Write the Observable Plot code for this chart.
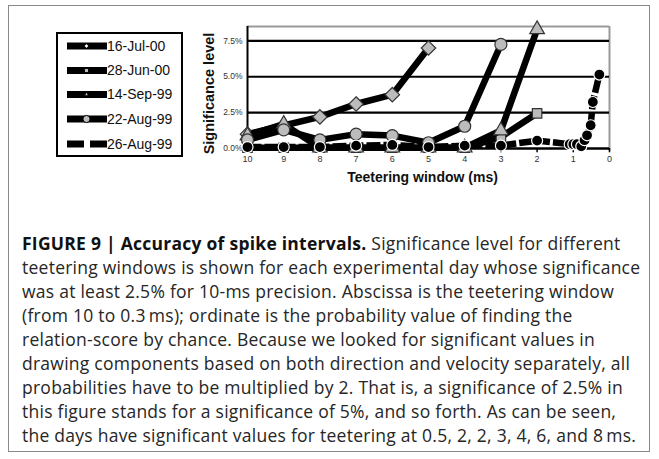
<!DOCTYPE html>
<html>
<head>
<meta charset="utf-8">
<script src="https://cdn.jsdelivr.net/npm/d3@7"></script>
<script src="https://cdn.jsdelivr.net/npm/@observablehq/plot@0.6"></script>
<style>
  html, body { margin: 0; padding: 0; background: #fff; }
  #page { position: relative; width: 659px; height: 459px; overflow: hidden; }
  #frame { position: absolute; left: 8px; top: 5px; width: 642px; height: 447px; border: 1.5px solid #8a8a8a; box-sizing: border-box; }
  #chart { position: absolute; left: 0; top: 0; }
  #legend { position: absolute; left: 0; top: 0; }
  #caption { position: absolute; left: 22px; top: 231px; font-family: "Open Sans", Roboto, "Liberation Sans", Arial, sans-serif; font-size: 17.5px; letter-spacing: 0.25px; color: #262626; line-height: 24px; }
  #caption div { white-space: nowrap; }
  #caption b { font-weight: 700; color: #111; }
</style>
</head>
<body>
<div id="page">
  <div id="frame"></div>
  <div id="chart"></div>
  <svg id="legend" width="659" height="200"></svg>
  <div id="caption">
    <div><b>FIGURE 9 | Accuracy of spike intervals.</b> Significance level for different</div>
    <div>teetering windows is shown for each experimental day whose significance</div>
    <div>was at least 2.5% for 10-ms precision. Abscissa is the teetering window</div>
    <div>(from 10 to 0.3&#8201;ms); ordinate is the probability value of finding the</div>
    <div>relation-score by chance. Because we looked for significant values in</div>
    <div>drawing components based on both direction and velocity separately, all</div>
    <div>probabilities have to be multiplied by 2. That is, a significance of 2.5% in</div>
    <div>this figure stands for a significance of 5%, and so forth. As can be seen,</div>
    <div>the days have significant values for teetering at 0.5, 2, 2, 3, 4, 6, and 8&#8201;ms.</div>
  </div>
</div>
<script>
// ---- data (% significance) ----
const xTicks = [10, 9, 8, 7, 6, 5, 4, 3, 2, 1, 0];
const yTicks = [0, 2.5, 5, 7.5];
const yTickLabels = ["0.0%", "2.5%", "5.0%", "7.5%"];

const names = ["16-Jul-00", "28-Jun-00", "14-Sep-99", "22-Aug-99", "26-Aug-99"];

const x_16Jul00 = [10, 9, 8, 7, 6, 5];
const y_16Jul00 = [1.0, 1.6, 2.2, 3.1, 3.75, 7.0];

const x_28Jun00 = [10, 9, 8, 7, 6, 5, 4, 3, 2];
const y_28Jun00 = [0.05, 0.05, 0.05, 0.05, 0.05, 0.05, 0.05, 0.8, 2.45];

const x_14Sep99 = [10, 9, 8, 7, 6, 5, 4, 3, 2];
const y_14Sep99 = [0.9, 1.7, 0.05, 0.05, 0.05, 0.05, 0.05, 1.25, 8.3];

const x_22Aug99 = [10, 9, 8, 7, 6, 5, 4, 3];
const y_22Aug99 = [0.6, 1.3, 0.6, 1.0, 0.9, 0.4, 1.55, 7.25];

const x_26Aug99 = [10, 9, 8, 7, 6, 5, 4, 3, 2, 1.1, 1.0, 0.9, 0.78, 0.69, 0.62, 0.52, 0.46, 0.28];
const y_26Aug99 = [0.1, 0.1, 0.1, 0.2, 0.25, 0.1, 0.2, 0.2, 0.55, 0.3, 0.3, 0.3, 0.15, 0.58, 0.92, 1.62, 3.24, 5.15];

// ---- build rows ----
const rows = (name, xs, ys) => xs.map((x, i) => ({name, x, y: ys[i]}));
const s1 = rows(names[0], x_16Jul00, y_16Jul00);
const s2 = rows(names[1], x_28Jun00, y_28Jun00);
const s3 = rows(names[2], x_14Sep99, y_14Sep99);
const s4 = rows(names[3], x_22Aug99, y_22Aug99);
const s5 = rows(names[4], x_26Aug99, y_26Aug99);

const gray = "#bcbcbc";
const LW = 6.5;

const seriesMarks = (data, symbol, fill, stroke, r, dash) => [
  Plot.line(data, {x: "x", y: "y", stroke: "#000", strokeWidth: LW, strokeLinejoin: "round", strokeLinecap: "butt", strokeDasharray: dash}),
  Plot.dot(data, {x: "x", y: "y", symbol, r, fill, stroke, strokeWidth: 1.2})
];

const chart = Plot.plot({
  width: 659,
  height: 200,
  marginLeft: 247,
  marginRight: 50,
  marginTop: 26,
  marginBottom: 52,
  x: {domain: [10, 0], axis: null},
  y: {domain: [0, 8.5], axis: null},
  style: {fontFamily: "'Liberation Sans', Arial, sans-serif", background: "transparent", overflow: "visible"},
  marks: [
    Plot.ruleY([8.5], {stroke: "#9a9a9a", strokeWidth: 2}),
    Plot.ruleX([0], {y1: -0.2, y2: 8.5, stroke: "#9a9a9a", strokeWidth: 2}),
    Plot.ruleY(yTicks.slice(1), {stroke: "#000", strokeWidth: 2.2}),
    Plot.ruleX(xTicks, {y1: 0, y2: -0.3, stroke: "#000", strokeWidth: 1.5}),
    Plot.ruleX([10], {y1: 0, y2: 8.5, stroke: "#000", strokeWidth: 2}),
    Plot.ruleY([0], {stroke: "#000", strokeWidth: 2.5}),
    Plot.text(yTicks, {x: 10, y: d => d, text: (d, i) => yTickLabels[i], dx: -5, textAnchor: "end", fontSize: 8.5, fill: "#333"}),
    Plot.text(xTicks, {x: d => d, y: 0, text: d => String(d), dy: 11, fontSize: 9, fill: "#333"}),
    Plot.text(["Teetering window (ms)"], {frameAnchor: "bottom", textAnchor: "middle", text: d => d, dx: -6, dy: 33, fontSize: 14, fontWeight: "bold", fill: "#111"}),
    Plot.text(["Significance level"], {frameAnchor: "left", textAnchor: "middle", text: d => d, rotate: -90, dx: -38, dy: 6, fontSize: 14.5, fontWeight: "bold", fill: "#111"}),
    ...seriesMarks(s1, "diamond2", gray, "#333", 6.5),
    ...seriesMarks(s2, "square2", gray, "#333", 6),
    ...seriesMarks(s3, "triangle2", gray, "#333", 7),
    ...seriesMarks(s4, "circle", gray, "#333", 6),
    ...seriesMarks(s5, "circle", "#000", "#fff", 5.5, "14,3")
  ]
});
document.getElementById("chart").appendChild(chart);

// ---- legend ----
const lg = d3.select("#legend");
lg.append("rect").attr("x", 57).attr("y", 33).attr("width", 125).attr("height", 123)
  .attr("fill", "#fff").attr("stroke", "#000").attr("stroke-width", 2);
const legendY = [46, 70.5, 94.5, 119, 144];
const legendSym = [d3.symbolDiamond2, d3.symbolSquare2, d3.symbolTriangle2, d3.symbolCircle, d3.symbolCircle];
const legendFill = ["#fff", gray, gray, gray, "#fff"];
const legendSize = [14, 22, 14, 40, 6];
names.forEach((n, i) => {
  const y = legendY[i];
  const g = lg.append("g");
  g.append("line").attr("x1", 67).attr("x2", 107).attr("y1", y).attr("y2", y)
    .attr("stroke", "#000").attr("stroke-width", 7)
    .attr("stroke-dasharray", i === 4 ? "17,6" : null);
  g.append("path").attr("d", d3.symbol(legendSym[i], legendSize[i])())
    .attr("transform", `translate(86.5,${y})`)
    .attr("fill", legendFill[i]).attr("stroke", i === 4 ? "none" : "#000").attr("stroke-width", 1);
  g.append("text").attr("x", 107).attr("y", y).attr("dy", "0.35em")
    .attr("font-family", "'Liberation Sans', Arial, sans-serif").attr("font-size", 14)
    .attr("fill", "#111").text(n);
});
</script>
</body>
</html>
